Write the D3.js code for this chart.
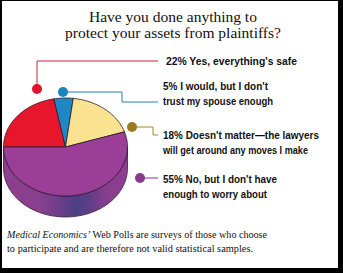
<!DOCTYPE html>
<html><head><meta charset="utf-8">
<script src="https://cdn.jsdelivr.net/npm/d3@7"></script>
<style>html,body{margin:0;padding:0;background:#fff;}svg{display:block;}</style>
</head><body>
<svg id="c" width="343" height="273"></svg>
<script>
const categories = ["Yes, everything's safe", "I would, but I don't trust my spouse enough", "Doesn't matter\u2014the lawyers will get around any moves I make", "No, but I don't have enough to worry about"];
const values = [22, 5, 18, 55];
const labelLines = [
  ["22% Yes, everything's safe"],
  ["5% I would, but I don't", "trust my spouse enough"],
  ["18%  Doesn't matter\u2014the lawyers", "will get around any moves I make"],
  ["55% No, but I don't have", "enough to worry about"]
];
const titleLines = ["Have you done anything to", "protect your assets from plaintiffs?"];
const footLines = ["Medical Economics\u2019", " Web Polls are surveys of those who choose", "to participate and are therefore not valid statistical samples."];
const colors = ["#e8162a", "#1e88c4", "#f9e391", "#9a3e98"];
const dotColors = ["#e2122a", "#1a84c0", "#9a7a22", "#8a3a8a"];
const lineColors = ["#d8203a", "#2080b8", "#a8862e", "#7e3a80"];

const svg = d3.select("#c");
svg.append("rect").attr("width",343).attr("height",273).attr("fill","#000");
svg.append("rect").attr("x",2).attr("y",1).attr("width",336).attr("height",267).attr("fill","#fff");

// title
svg.append("g").selectAll("text").data(titleLines).join("text")
  .attr("x",173).attr("y",(d,i)=>21.5+i*16.5).attr("text-anchor","middle")
  .attr("font-family","'Liberation Serif','Times New Roman',serif").attr("font-size",15.5)
  .attr("fill","#111").text(d=>d);

// pie
const cx = 65.5, cy = 147, rx = 62, ry = 49, depth = 21;
const pie = d3.pie().sort(null).value(d=>d).startAngle(-Math.PI/2).endAngle(1.5*Math.PI);
const arcs = pie(values);
const px = a => cx + rx*Math.sin(a), py = a => cy - ry*Math.cos(a);
function ellArc(a0,a1,dy){
  const n = Math.max(2, Math.ceil(Math.abs(a1-a0)/0.03));
  const pts=[];
  for(let i=0;i<=n;i++){const a=a0+(a1-a0)*i/n; pts.push([px(a),py(a)+dy]);}
  return pts;
}
const defs = svg.append("defs");
const grad = defs.append("linearGradient").attr("id","side").attr("x1","0").attr("x2","1").attr("y1","0").attr("y2","0");
[[0,"#8e3e8e"],[0.3,"#86408e"],[0.45,"#6e3d8a"],[0.58,"#4c3f84"],[0.68,"#5c3e88"],[0.82,"#873d8e"],[1,"#903e90"]]
  .forEach(([o,c])=>grad.append("stop").attr("offset",o).attr("stop-color",c));

const sidePts = ellArc(Math.PI/2, 1.5*Math.PI, 0).concat(ellArc(1.5*Math.PI, Math.PI/2, depth));
svg.append("path").attr("d", d3.line()(sidePts)+"Z").attr("fill","url(#side)")
  .attr("stroke","#3a1a3a").attr("stroke-width",0.8);

svg.append("g").selectAll("path").data(arcs).join("path")
  .attr("d", d => d3.line()([[cx,cy]].concat(ellArc(d.startAngle,d.endAngle,0)))+"Z")
  .attr("fill",(d,i)=>colors[i]).attr("stroke","#2a1a2a").attr("stroke-width",0.8).attr("stroke-linejoin","round");

// leaders
const leaders = [
  {dot:[37,89], path:[[37,89],[37,61],[158,61]]},
  {dot:[63,92], path:[[63,92],[122,92],[122,102],[158,102]]},
  {dot:[132,127], path:[[132,127],[153,127],[153,135],[158,135]]},
  {dot:[140,178], path:[[140,178],[158,178]]}
];
const lg = svg.append("g");
leaders.forEach((l,i)=>{
  lg.append("path").attr("d",d3.line()(l.path)).attr("fill","none").attr("stroke",lineColors[i]).attr("stroke-width",1);
  lg.append("circle").attr("cx",l.dot[0]).attr("cy",l.dot[1]).attr("r",5).attr("fill",dotColors[i]);
});

// labels (condensed bold, fitted to reference widths)
const labelLayout = [
  {x:166, y:65, w:[131]},
  {x:163, y:90, w:[105,110]},
  {x:163, y:139, w:[156,145]},
  {x:163, y:183, w:[114,104]}
];
const lineH = 14.5;
labelLines.forEach((lines,i)=>{
  const L = labelLayout[i];
  svg.append("g").selectAll("text").data(lines).join("text")
    .attr("x",L.x).attr("y",(d,j)=>L.y+j*lineH)
    .attr("font-family","'Liberation Sans',Arial,sans-serif").attr("font-weight","bold")
    .attr("font-size",10.5).attr("fill","#111")
    .attr("textLength",(d,j)=>L.w[j]).attr("lengthAdjust","spacingAndGlyphs")
    .text(d=>d);
});

// footnote
const fn = svg.append("g").attr("font-family","'Liberation Serif','Times New Roman',serif").attr("font-size",10).attr("fill","#111");
const t1 = fn.append("text").attr("x",7).attr("y",238).attr("textLength",260).attr("lengthAdjust","spacingAndGlyphs");
t1.append("tspan").attr("font-style","italic").text(footLines[0]);
t1.append("tspan").text(footLines[1]);
fn.append("text").attr("x",7).attr("y",252).attr("textLength",246).attr("lengthAdjust","spacingAndGlyphs").text(footLines[2]);
</script>
</body></html>
